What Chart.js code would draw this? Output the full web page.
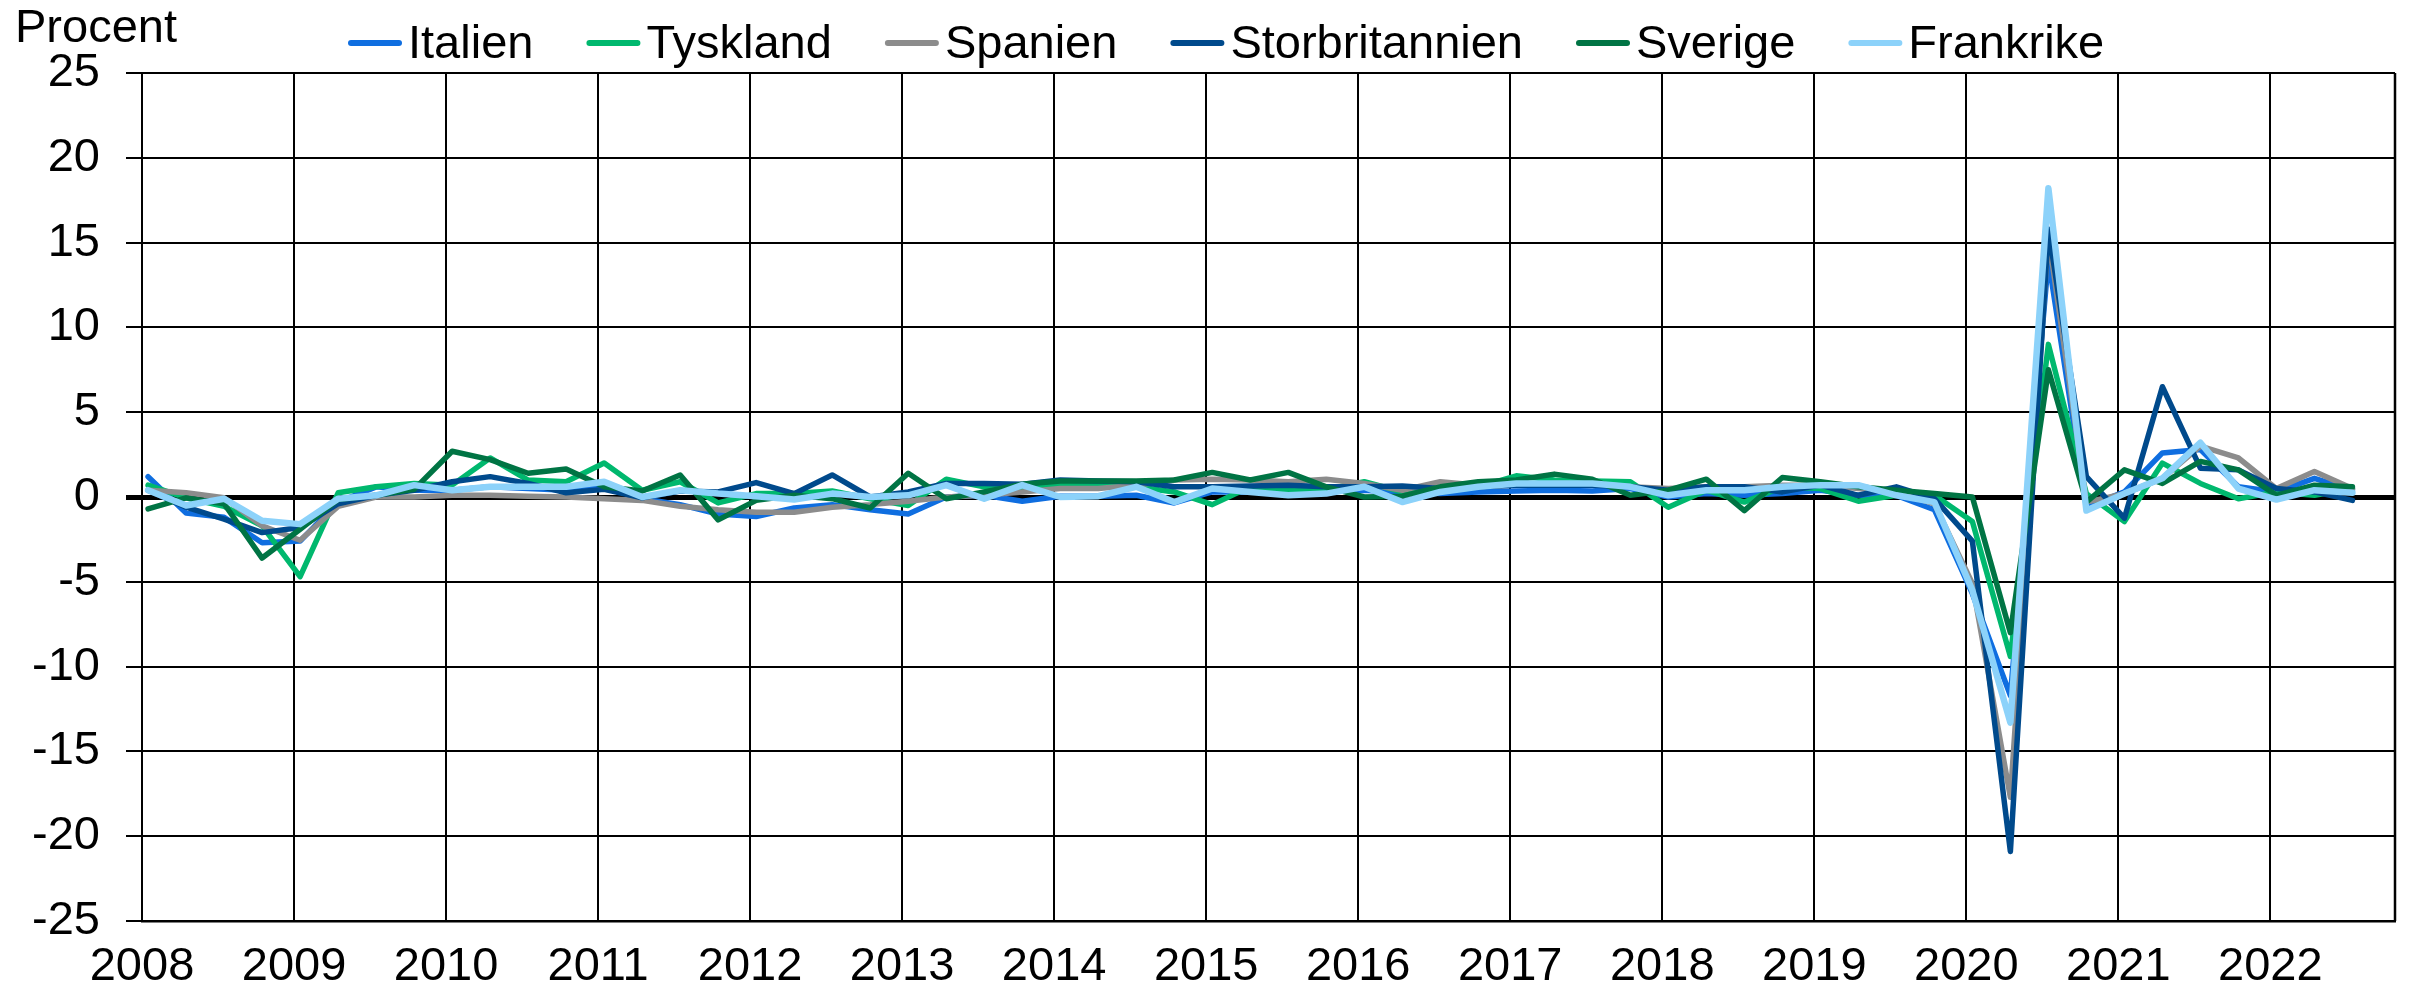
<!DOCTYPE html>
<html>
<head>
<meta charset="utf-8">
<script src="https://cdn.jsdelivr.net/npm/chart.js@4/dist/chart.umd.min.js"></script>
<style>
html,body{margin:0;padding:0;background:#ffffff;}
#wrap{width:2419px;height:991px;position:relative;}
canvas{display:block;}
</style>
</head>
<body>
<div id="wrap"><canvas id="c" width="2419" height="991" style="width:2419px;height:991px"></canvas></div>
<script>
// Categories: quarters 2008 K1 – 2022 K3
const quarters = [
 '2008K1','2008K2','2008K3','2008K4','2009K1','2009K2','2009K3','2009K4',
 '2010K1','2010K2','2010K3','2010K4','2011K1','2011K2','2011K3','2011K4',
 '2012K1','2012K2','2012K3','2012K4','2013K1','2013K2','2013K3','2013K4',
 '2014K1','2014K2','2014K3','2014K4','2015K1','2015K2','2015K3','2015K4',
 '2016K1','2016K2','2016K3','2016K4','2017K1','2017K2','2017K3','2017K4',
 '2018K1','2018K2','2018K3','2018K4','2019K1','2019K2','2019K3','2019K4',
 '2020K1','2020K2','2020K3','2020K4','2021K1','2021K2','2021K3','2021K4',
 '2022K1','2022K2','2022K3'
];

const yearTicks = [2008,2009,2010,2011,2012,2013,2014,2015,2016,2017,2018,2019,2020,2021,2022];
const yTicks = [-25,-20,-15,-10,-5,0,5,10,15,20,25];

const seriesNames = ['Italien','Tyskland','Spanien','Storbritannien','Sverige','Frankrike'];

const italien = [1.2,-0.95,-1.2,-2.7,-2.6,-0.3,0.6,0.4,0.4,0.6,
 0.5,0.4,0.6,-0.1,-0.45,-1.0,-1.15,-0.65,-0.45,-0.75,
 -1.0,0.0,0.1,-0.25,0.05,0.05,0.1,-0.35,0.3,0.3,
 0.25,0.35,0.4,0.25,0.2,0.3,0.35,0.4,0.35,0.5,
 0.0,0.2,0.1,0.2,0.4,0.1,0.1,-0.75,-5.7,-11.7,
 14.0,-0.6,0.3,2.6,2.8,0.6,0.3,1.1,0.4];

const tyskland = [0.7,-0.05,-0.55,-1.7,-4.7,0.25,0.6,0.8,0.7,2.3,
 1.0,0.9,2.0,0.4,0.9,-0.35,0.2,0.2,0.35,-0.1,
 -0.5,1.05,0.6,0.5,0.7,0.8,0.6,0.3,-0.45,0.6,
 0.4,0.45,0.9,0.3,0.3,0.6,1.25,1.0,0.95,0.9,
 -0.6,0.4,-0.3,0.6,0.5,-0.25,0.1,0.1,-1.45,-9.4,
 9.0,0.2,-1.45,2.0,0.8,-0.1,0.3,0.1,0.5];

const spanien = [0.4,0.25,-0.05,-1.7,-2.55,-0.55,0.0,0.0,0.1,0.1,
 0.05,0.0,-0.1,-0.2,-0.55,-0.75,-0.9,-0.9,-0.6,-0.45,
 -0.25,0.0,0.1,0.3,0.5,0.5,0.7,1.0,1.05,1.0,
 0.9,1.05,0.8,0.4,0.9,0.7,0.7,0.8,0.8,0.6,
 0.5,0.6,0.6,0.7,0.7,0.5,0.3,-0.4,-5.1,-17.7,
 15.4,-0.3,0.2,1.1,3.0,2.3,0.5,1.5,0.5];

const storbritannien = [0.4,-0.6,-1.3,-2.1,-1.8,-0.4,0.1,0.4,0.9,1.2,
 0.8,0.25,0.45,-0.05,0.35,0.3,0.85,0.2,1.3,0.0,
 0.3,0.8,0.8,0.75,1.0,0.95,0.9,0.6,0.6,0.65,
 0.7,0.6,0.6,0.65,0.5,0.6,0.7,0.7,0.7,0.6,
 0.4,0.6,0.6,0.3,0.7,0.1,0.6,-0.1,-2.6,-20.9,
 15.8,1.2,-1.25,6.5,1.7,1.6,0.5,0.3,-0.2];

const sverige = [-0.7,-0.05,-0.4,-3.6,-1.9,-0.15,0.1,0.45,2.7,2.2,
 1.4,1.65,0.6,0.35,1.3,-1.35,-0.2,0.1,-0.1,-0.65,
 1.4,-0.1,0.3,0.75,0.95,0.95,0.95,1.0,1.45,1.0,
 1.45,0.6,0.0,0.05,0.6,0.9,1.0,1.35,1.05,0.1,
 0.4,1.05,-0.8,1.15,0.9,0.6,0.4,0.2,0.0,-8.0,
 7.5,-0.3,1.6,0.8,2.1,1.6,0.1,0.7,0.6];

const frankrike = [0.4,-0.5,-0.1,-1.4,-1.6,-0.1,0.1,0.7,0.4,0.6,
 0.6,0.6,0.9,0.0,0.4,0.2,0.05,-0.15,0.2,0.0,
 0.1,0.7,-0.1,0.7,0.0,0.05,0.6,-0.3,0.5,0.3,
 0.1,0.2,0.6,-0.3,0.3,0.6,0.8,0.8,0.8,0.6,
 0.1,0.4,0.4,0.6,0.7,0.7,0.1,-0.3,-5.5,-13.3,
 18.2,-0.8,0.2,1.1,3.2,0.5,-0.15,0.4,0.25];

const allValues = [italien, tyskland, spanien, storbritannien, sverige, frankrike];
const colors = ['#0F6EE0','#00B86E','#8C8C8C','#004A8C','#007444','#8CD2FA'];
const widths = [5.5,5.5,5.5,5.5,5.5,6.5];

// quarter label -> position on a date-like axis (middle of first month of the quarter)
function quarterPos(label){
  const y = parseInt(label.slice(0,4),10);
  const q = parseInt(label.slice(5),10);
  return y + (q-1)/4 + 0.04;
}

const FONT = '"Liberation Sans", Arial, Helvetica, sans-serif';
Chart.defaults.font.family = FONT;
Chart.defaults.color = '#000';

const datasets = seriesNames.map((name,k)=>({
  label: name,
  data: quarters.map((q,i)=>({x: quarterPos(q), y: allValues[k][i]})),
  borderColor: colors[k],
  backgroundColor: colors[k],
  borderWidth: widths[k],
  pointRadius: 0,
  tension: 0,
  fill: false,
  borderJoinStyle: 'round',
  borderCapStyle: 'round',
  order: seriesNames.length - k
}));

const overlay = {
  id: 'overlay',
  beforeDatasetsDraw(chart){
    const {ctx, chartArea} = chart;
    ctx.save();
    ctx.strokeStyle = '#000';
    ctx.lineWidth = 2.5;
    ctx.beginPath();
    ctx.moveTo(chartArea.right, chartArea.top);
    ctx.lineTo(chartArea.right, chartArea.bottom);
    ctx.stroke();
    ctx.restore();
  },
  afterDraw(chart){
    const ctx = chart.ctx;
    ctx.save();
    ctx.font = '47px ' + FONT;
    ctx.textBaseline = 'alphabetic';
    ctx.textAlign = 'left';
    ctx.fillStyle = '#000';
    ctx.fillText('Procent', 15, 42);
    let x = 348;
    chart.data.datasets.forEach(ds=>{
      ctx.strokeStyle = ds.borderColor;
      ctx.lineWidth = 6;
      ctx.lineCap = 'round';
      ctx.beginPath();
      ctx.moveTo(x+3, 43);
      ctx.lineTo(x+51, 43);
      ctx.stroke();
      ctx.fillStyle = '#000';
      ctx.fillText(ds.label, x+60, 58);
      x += 60 + ctx.measureText(ds.label).width + 53;
    });
    ctx.restore();
  }
};

new Chart(document.getElementById('c'), {
  type: 'line',
  data: { datasets },
  options: {
    responsive: false,
    animation: false,
    devicePixelRatio: 1,
    layout: { padding: { left: 0, right: 24, top: 73, bottom: 0 } },
    plugins: { legend: { display: false }, title: { display: false }, tooltip: { enabled: false } },
    scales: {
      x: {
        type: 'linear',
        min: yearTicks[0],
        max: 2022.82,
        afterBuildTicks: (scale)=>{ scale.ticks = yearTicks.map(v=>({value:v})); },
        ticks: {
          autoSkip: false, maxRotation: 0, minRotation: 0,
          color: '#000', font: { size: 47, family: FONT }, padding: 18,
          callback: (v)=>String(v)
        },
        grid: { color: '#000', lineWidth: 2, drawTicks: false, tickLength: 0 },
        border: { display: true, color: '#000', width: 2.5 },
        afterFit: (s)=>{ s.height = 70; }
      },
      y: {
        min: yTicks[0], max: yTicks[yTicks.length-1],
        afterBuildTicks: (scale)=>{ scale.ticks = yTicks.map(v=>({value:v})); },
        ticks: { color: '#000', font: { size: 47, family: FONT }, padding: 26, callback: (v)=>String(v) },
        grid: {
          color: '#000',
          lineWidth: (c)=> (c.tick && c.tick.value === 0) ? 5 : 2,
          drawTicks: true, tickLength: 16
        },
        border: { display: true, color: '#000', width: 2 },
        afterFit: (s)=>{ s.width = 142; }
      }
    }
  },
  plugins: [overlay]
});
</script>
</body>
</html>
